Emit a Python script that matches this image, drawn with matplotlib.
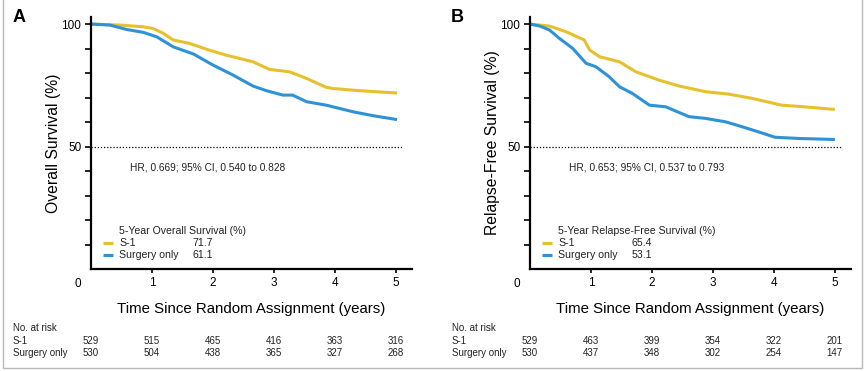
import numpy as np
import matplotlib
matplotlib.use("Agg")
import matplotlib.pyplot as plt
from matplotlib.patches import Rectangle
from matplotlib.transforms import blended_transform_factory

plt.rcParams['font.family'] = ['Liberation Sans', 'DejaVu Sans']

# ---- data ----
yrs = [0, 1, 2, 3, 4, 5]

os_s1_t = [0, 0.475, 0.85, 1.02, 1.19, 1.35, 1.62, 1.90, 2.22, 2.66, 2.93, 3.26, 3.54, 3.86, 3.97, 4.41, 5.0]
os_s1_v = [100, 99.6, 98.9, 98.2, 96.2, 93.5, 92.1, 89.7, 87.3, 84.6, 81.5, 80.5, 77.8, 74.2, 73.7, 72.8, 71.9]
os_so_t = [0, 0.31, 0.585, 0.86, 1.08, 1.35, 1.68, 2.0, 2.33, 2.66, 2.88, 3.15, 3.31, 3.54, 3.86, 4.30, 4.63, 5.0]
os_so_v = [100, 99.6, 97.8, 96.6, 94.8, 90.7, 87.8, 83.3, 79.2, 74.7, 72.8, 71.0, 71.0, 68.3, 66.9, 64.2, 62.6, 61.1]

rfs_s1_t = [0, 0.32, 0.59, 0.89, 0.98, 1.14, 1.47, 1.74, 2.12, 2.45, 2.88, 3.26, 3.64, 4.13, 4.51, 4.98]
rfs_s1_v = [100, 99.2, 96.9, 93.5, 89.4, 86.7, 84.6, 80.5, 77.1, 74.7, 72.4, 71.4, 69.7, 66.9, 66.2, 65.2]
rfs_so_t = [0, 0.16, 0.32, 0.48, 0.70, 0.92, 1.08, 1.30, 1.47, 1.68, 1.96, 2.23, 2.61, 2.88, 3.21, 3.48, 3.75, 4.02, 4.41, 4.98]
rfs_so_v = [100, 99.2, 97.6, 94.2, 90.1, 84.0, 82.6, 78.5, 74.4, 71.7, 66.9, 66.2, 62.2, 61.5, 60.1, 58.1, 56.0, 53.8, 53.3, 52.9]

os_risk_s1 = [529, 515, 465, 416, 363, 316]
os_risk_so = [530, 504, 438, 365, 327, 268]
rfs_risk_s1 = [529, 463, 399, 354, 322, 201]
rfs_risk_so = [530, 437, 348, 302, 254, 147]

groups = ['S-1', 'Surgery only']
os_5yr = ['71.7', '61.1']
rfs_5yr = ['65.4', '53.1']

YEL = '#E6C12B'
BLU = '#2E92D6'
TXT = '#222222'

fig = plt.figure(figsize=(8.66, 3.71), dpi=100)
fig.add_artist(Rectangle((0.003, 0.008), 0.992, 1.2, transform=fig.transFigure,
                         fill=False, edgecolor='#b8b8b8', lw=1.0))


def panel(left, letter, ylab, s1, so, hr, legtitle, vals, risk1, risk2, lab_x):
    ax = fig.add_axes([left, 0.2749, 0.3707, 0.680])
    ax.plot(s1[0], s1[1], color=YEL, lw=2.2)
    ax.plot(so[0], so[1], color=BLU, lw=2.2)
    ax.axhline(50, xmin=0, xmax=0.97, color='black', lw=0.9, ls=(0, (1, 1.5)))
    ax.set_xlim(0, 5.27)
    ax.set_ylim(0, 103)
    for s in ['top', 'right']:
        ax.spines[s].set_visible(False)
    for s in ['left', 'bottom']:
        ax.spines[s].set_linewidth(1.6)
    ax.set_yticks(np.arange(10, 101, 10))
    ax.set_yticklabels(['' if v not in (50, 100) else str(v) for v in range(10, 101, 10)])
    ax.set_xticks(yrs[1:])
    ax.set_xticklabels([str(y) for y in yrs[1:]])
    ax.tick_params(axis='both', direction='out', width=1.2, length=4, labelsize=8.5, pad=3)
    ax.tick_params(axis='x', length=3, pad=3)
    ax.text(-0.21, -3.8, '0', ha='center', va='top', fontsize=8.5)
    ax.set_xlabel('Time Since Random Assignment (years)', fontsize=10.8, labelpad=9)
    ax.set_ylabel(ylab, fontsize=11.3, labelpad=0.5)
    ax.text(0.64, 41.6, hr, fontsize=7.3, va='center', color=TXT)
    # legend
    ax.text(0.46, 15.5, legtitle, fontsize=7.6, va='center', color=TXT)
    for i, (g, c) in enumerate(zip(groups, [YEL, BLU])):
        yy = 10.8 - 4.9 * i
        ax.plot([0.2, 0.36], [yy, yy], color=c, lw=2.3, solid_capstyle='butt')
        ax.text(0.46, yy, g, fontsize=7.6, va='center', color=TXT)
        ax.text(1.67, yy, vals[i], fontsize=7.6, va='center', color=TXT)
    # risk table
    tr = blended_transform_factory(ax.transData, fig.transFigure)
    rows = [('No. at risk', None, 1 - 328 / 371), ('S-1', risk1, 1 - 341 / 371),
            ('Surgery only', risk2, 1 - 353 / 371)]
    for lab, vals_r, yf in rows:
        fig.text(lab_x, yf, lab, fontsize=7.0, va='center', color=TXT)
        if vals_r is not None:
            for x, n in zip(yrs, vals_r):
                ax.text(x, yf, str(n), transform=tr, ha='center', va='center',
                        fontsize=7.0, color=TXT)
    fig.text(lab_x - 0.001, 1 - 18 / 371, letter, fontsize=13, fontweight='bold',
             va='center', ha='left')
    return ax


panel(91 / 866, 'A', 'Overall Survival (%)', (os_s1_t, os_s1_v), (os_so_t, os_so_v),
      'HR, 0.669; 95% CI, 0.540 to 0.828', '5-Year Overall Survival (%)', os_5yr,
      os_risk_s1, os_risk_so, 13 / 866)
panel(530 / 866, 'B', 'Relapse-Free Survival (%)', (rfs_s1_t, rfs_s1_v), (rfs_so_t, rfs_so_v),
      'HR, 0.653; 95% CI, 0.537 to 0.793', '5-Year Relapse-Free Survival (%)', rfs_5yr,
      rfs_risk_s1, rfs_risk_so, 452 / 866)

fig.savefig('out.png', dpi=100)
